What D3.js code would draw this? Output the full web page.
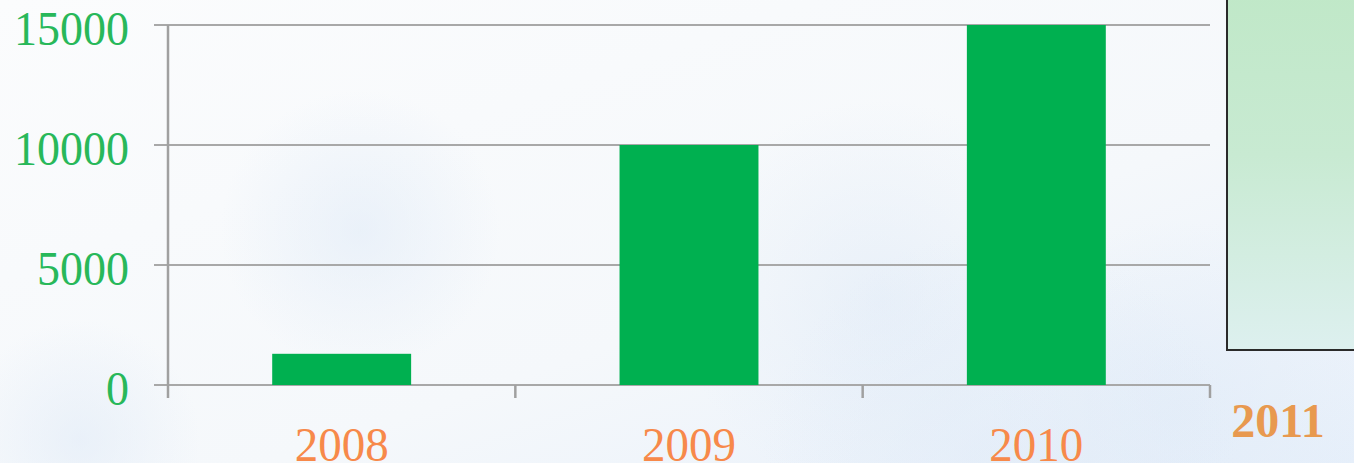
<!DOCTYPE html>
<html><head><meta charset="utf-8">
<script src="https://cdn.jsdelivr.net/npm/d3@7"></script>
<style>html,body{margin:0;padding:0;overflow:hidden;}svg{display:block;}</style>
</head><body>
<script>
const categories = ["2008", "2009", "2010"];
const values = [1300, 10000, 15000];
const yTicks = [0, 5000, 10000, 15000];
const extraLabel = ["2011"];

(function(){
const W = 1354, H = 463;
const svg = d3.select("body").append("svg").attr("width", W).attr("height", H);
const defs = svg.append("defs");

const bg = defs.append("linearGradient").attr("id","bg").attr("x1",0).attr("y1",0).attr("x2",1).attr("y2",1);
bg.append("stop").attr("offset","0%").attr("stop-color","#fbfcfd");
bg.append("stop").attr("offset","60%").attr("stop-color","#f5f8fb");
bg.append("stop").attr("offset","100%").attr("stop-color","#e6effa");
svg.append("rect").attr("width",W).attr("height",H).attr("fill","url(#bg)");

const rg = defs.append("radialGradient").attr("id","cloud");
rg.append("stop").attr("offset","0%").attr("stop-color","#dfeaf7").attr("stop-opacity",0.55);
rg.append("stop").attr("offset","100%").attr("stop-color","#dfeaf7").attr("stop-opacity",0);
[[1180,410,190],[880,300,200],[360,230,140],[1000,470,240],[80,440,120]].forEach(([cx,cy,r])=>{
  svg.append("circle").attr("cx",cx).attr("cy",cy).attr("r",r).attr("fill","url(#cloud)");
});

// green panel on right
const gg = defs.append("linearGradient").attr("id","gpanel").attr("x1",0).attr("y1",0).attr("x2",0).attr("y2",1);
gg.append("stop").attr("offset","0%").attr("stop-color","#c0e8c8");
gg.append("stop").attr("offset","45%").attr("stop-color","#c8ead2");
gg.append("stop").attr("offset","100%").attr("stop-color","#ddf0ef");
svg.append("rect").attr("x",1227).attr("y",-5).attr("width",140).attr("height",355)
  .attr("fill","url(#gpanel)").attr("stroke","#2a2a2a").attr("stroke-width",2);

const pl = 168, pr = 1210, pt = 25, pb = 385;
const x = d3.scaleBand().domain(categories).range([pl,pr]).paddingInner(0.6).paddingOuter(0.3);
const y = d3.scaleLinear().domain([0,15000]).range([pb,pt]);

// gridlines
svg.append("g").selectAll("line").data(yTicks).join("line")
  .attr("x1",154).attr("x2",pr).attr("y1",d=>y(d)).attr("y2",d=>y(d))
  .attr("stroke","#a8a8a8").attr("stroke-width",2);

// y axis line
svg.append("line").attr("x1",pl).attr("x2",pl).attr("y1",pt).attr("y2",398)
  .attr("stroke","#a0a0a0").attr("stroke-width",2.5);

// x category boundary ticks
const tickXs = categories.map((c,i)=> pl + x.step()*(i+1));
svg.append("g").selectAll("line").data(tickXs).join("line")
  .attr("x1",d=>d).attr("x2",d=>d).attr("y1",pb).attr("y2",398)
  .attr("stroke","#a0a0a0").attr("stroke-width",2.5);

// bars
svg.append("g").selectAll("rect").data(values).join("rect")
  .attr("x",(d,i)=>x(categories[i])).attr("width",x.bandwidth())
  .attr("y",d=>y(d)).attr("height",d=>pb-y(d)).attr("fill","#00b050");

// y labels
svg.append("g").selectAll("text").data(yTicks).join("text")
  .attr("x",129).attr("y",d=>y(d)+20).attr("text-anchor","end")
  .attr("font-family","Liberation Serif, serif").attr("font-size",49)
  .attr("textLength",d=>String(d).length*23).attr("lengthAdjust","spacingAndGlyphs")
  .attr("fill","#28b85a").text(d=>d);

// x labels
svg.append("g").selectAll("text").data(categories).join("text")
  .attr("x",c=>x(c)+x.bandwidth()/2).attr("y",461).attr("text-anchor","middle")
  .attr("font-family","Liberation Serif, serif").attr("font-size",49)
  .attr("textLength",94).attr("lengthAdjust","spacingAndGlyphs")
  .attr("fill","#f7894a").text(d=>d);

svg.append("text").attr("x",1278).attr("y",437).attr("text-anchor","middle")
  .attr("font-family","Liberation Serif, serif").attr("font-weight","bold").attr("font-size",48)
  .attr("fill","#e8994f").text(extraLabel[0]);
})();
</script>
</body></html>
